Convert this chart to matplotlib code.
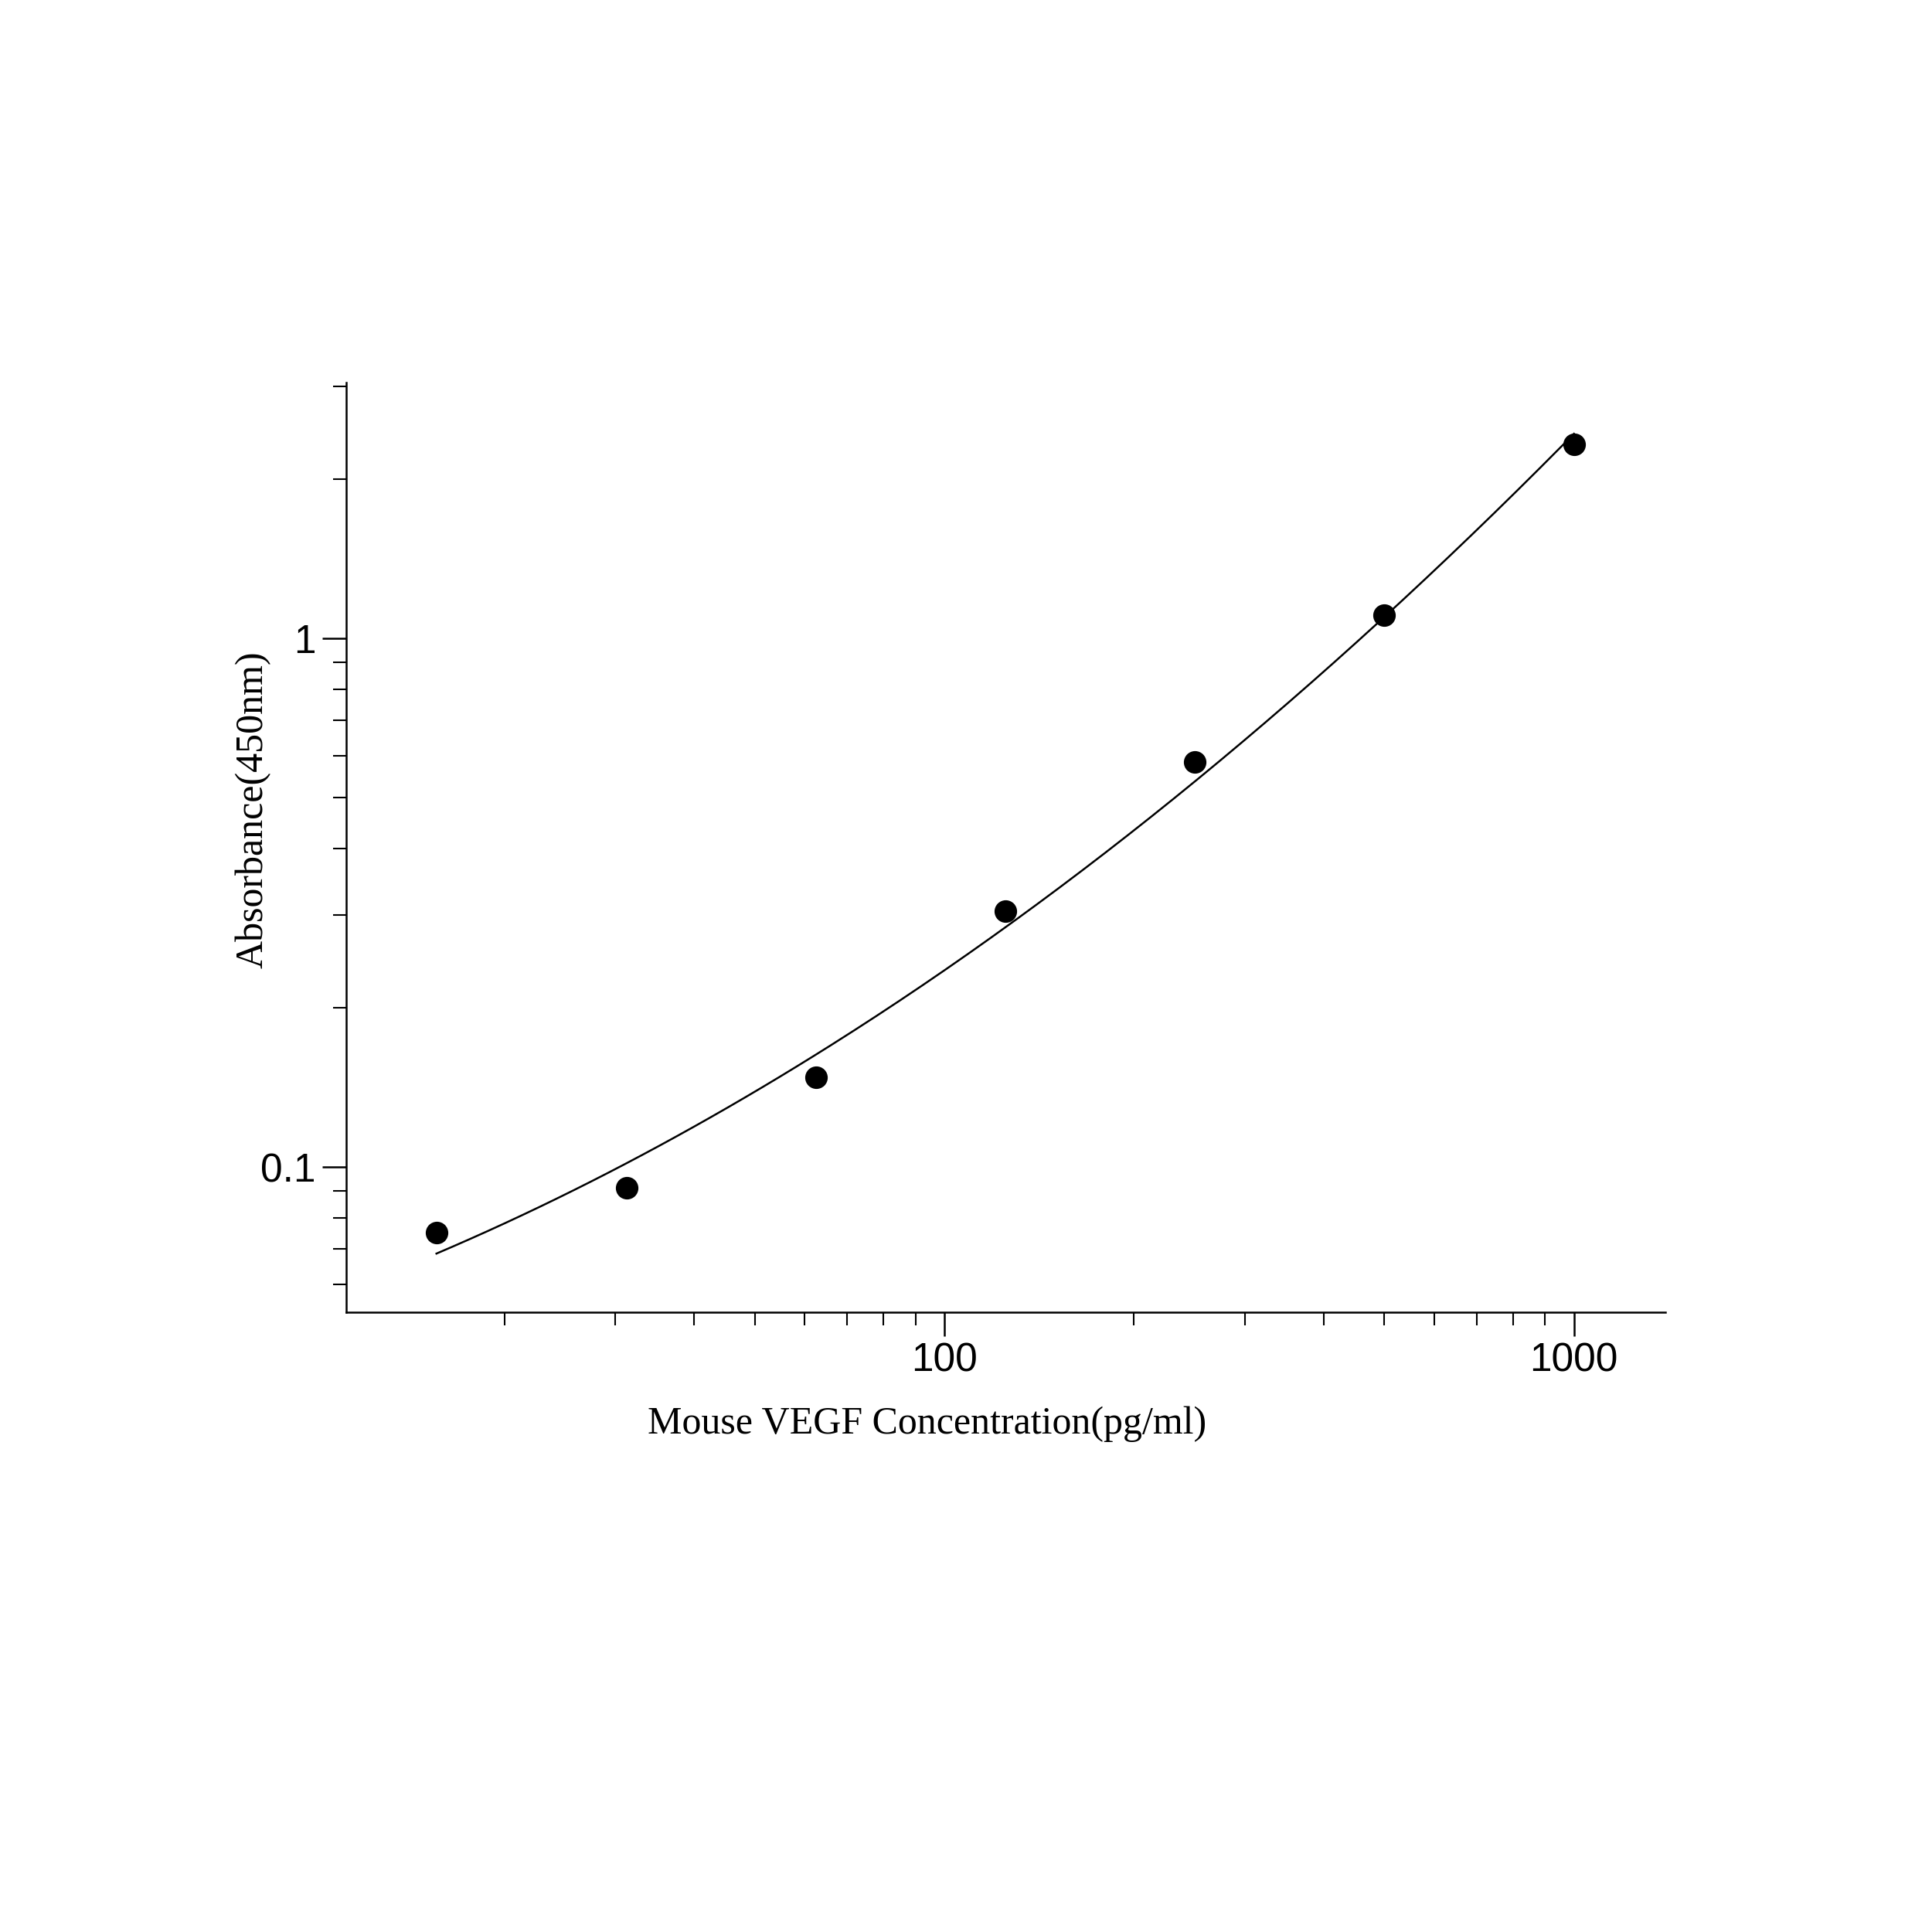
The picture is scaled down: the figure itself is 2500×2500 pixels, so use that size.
import numpy as np
import matplotlib
matplotlib.use("Agg")
import matplotlib.pyplot as plt
from matplotlib.ticker import LogLocator, NullFormatter, FixedLocator, FixedFormatter

conc = [15.6, 31.25, 62.5, 125, 250, 500, 1000]
od = [0.0752, 0.0912, 0.1476, 0.305, 0.583, 1.108, 2.33]

fig = plt.figure(figsize=(25, 25), dpi=100)
ax = fig.add_axes([0.179, 0.321, 0.683, 0.481])

lx, ly = np.log10(conc), np.log10(od)
c = np.polyfit(lx, ly, 2)
xs = np.linspace(lx[0], lx[-1], 200)
ax.plot(10**xs, 10**np.polyval(c, xs), color='black', lw=1.8)
ax.plot(conc, od, 'o', color='black', ms=20)

ax.set_xscale('log'); ax.set_yscale('log')
ax.set_xlim(11.2, 1397); ax.set_ylim(0.0532, 3.05)
for s in ['top', 'right']:
    ax.spines[s].set_visible(False)
for s in ['left', 'bottom']:
    ax.spines[s].set_linewidth(1.8)

ax.xaxis.set_major_locator(FixedLocator([100, 1000]))
ax.xaxis.set_major_formatter(FixedFormatter(['100', '1000']))
ax.yaxis.set_major_locator(FixedLocator([0.1, 1]))
ax.yaxis.set_major_formatter(FixedFormatter(['0.1', '1']))
ax.xaxis.set_minor_locator(LogLocator(base=10, subs=np.arange(2, 10)))
ax.yaxis.set_minor_locator(LogLocator(base=10, subs=np.arange(2, 10)))
ax.xaxis.set_minor_formatter(NullFormatter()); ax.yaxis.set_minor_formatter(NullFormatter())
ax.tick_params(which='major', length=22, width=1.8, direction='out', labelsize=37, pad=6)
ax.tick_params(which='minor', length=12, width=1.5, direction='out')
for t in ax.get_xticklabels() + ax.get_yticklabels():
    t.set_fontfamily('Liberation Sans')

fig.text(0.480, 0.263, 'Mouse VEGF Concentration(pg/ml)', fontsize=36,
         fontfamily='Liberation Serif', ha='center', va='center')
fig.text(0.131, 0.581, 'Absorbance(450nm)', fontsize=36, rotation=90,
         fontfamily='Liberation Serif', ha='center', va='center')
fig.savefig('out.png', dpi=100)
